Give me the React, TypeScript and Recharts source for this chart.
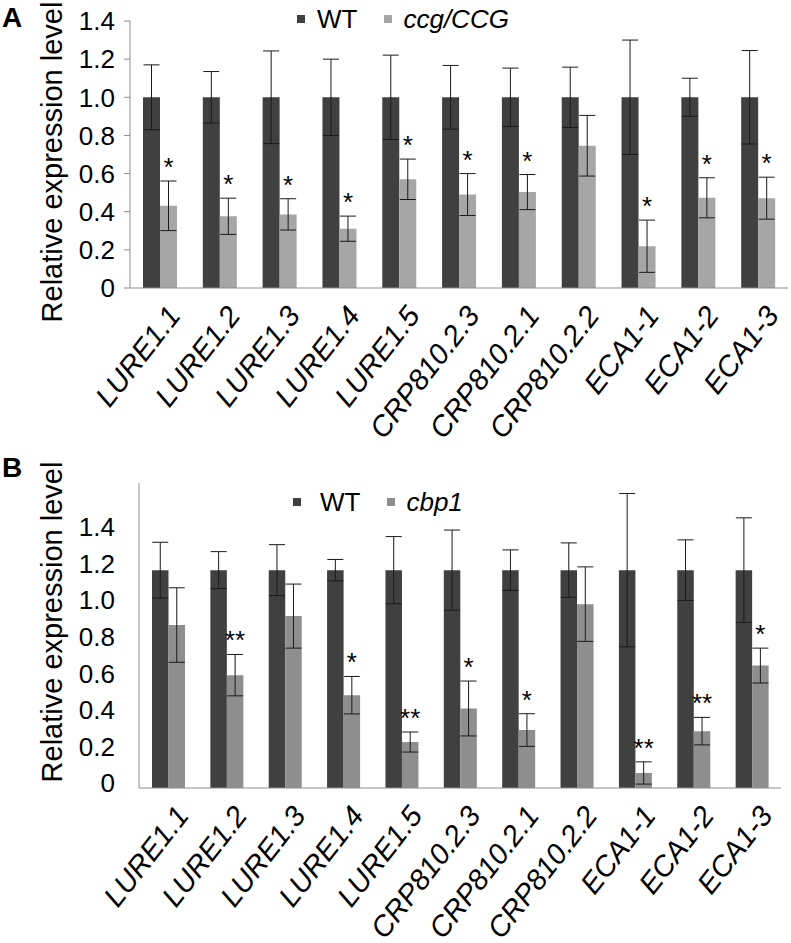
import React from 'react';
import { BarChart, Bar, XAxis, YAxis, ErrorBar, LabelList, Legend } from 'recharts';

// ---------- data ----------
const categories = [
  'LURE1.1', 'LURE1.2', 'LURE1.3', 'LURE1.4', 'LURE1.5',
  'CRP810.2.3', 'CRP810.2.1', 'CRP810.2.2', 'ECA1-1', 'ECA1-2', 'ECA1-3',
];

// Panel A: WT vs ccg/CCG
const wtA = [1, 1, 1, 1, 1, 1, 1, 1, 1, 1, 1];
const wtErrA = [0.17, 0.135, 0.243, 0.2, 0.221, 0.167, 0.153, 0.158, 0.3, 0.1, 0.245];
const ccgA = [0.431, 0.376, 0.386, 0.311, 0.57, 0.49, 0.503, 0.746, 0.219, 0.473, 0.471];
const ccgErrA = [0.13, 0.095, 0.082, 0.066, 0.106, 0.11, 0.092, 0.159, 0.137, 0.105, 0.11];
const sigA = ['*', '*', '*', '*', '*', '*', '*', '', '*', '*', '*'];

// Panel B: WT vs cbp1
const wtB = [1, 1, 1, 1, 1, 1, 1, 1, 1, 1, 1];
const wtErrB = [0.128, 0.085, 0.117, 0.049, 0.154, 0.184, 0.093, 0.125, 0.352, 0.139, 0.24];
const cbpB = [0.748, 0.518, 0.789, 0.426, 0.211, 0.365, 0.266, 0.844, 0.069, 0.261, 0.562];
const cbpErrB = [0.171, 0.095, 0.147, 0.086, 0.046, 0.126, 0.075, 0.171, 0.051, 0.063, 0.08];
const sigB = ['', '**', '', '*', '**', '*', '*', '', '**', '**', '*'];

// axis ticks
const yTicks = [0, 0.2, 0.4, 0.6, 0.8, 1.0, 1.2, 1.4];
const yTickLabels = ['0', '0.2', '0.4', '0.6', '0.8', '1.0', '1.2', '1.4'];
const boundaryTicks = [0, 1, 2, 3, 4, 5, 6, 7, 8, 9, 10, 11];

// legends / titles
const legendA = [
  { label: 'WT', italic: false },
  { label: 'ccg/CCG', italic: true },
];
const legendB = [
  { label: 'WT', italic: false },
  { label: 'cbp1', italic: true },
];
const yTitle = 'Relative expression level';

// ---------- style ----------
const FONT = '"Liberation Sans", Arial, Helvetica, sans-serif';
const WT_COLOR = '#404040';
const CCG_COLOR = '#a6a6a6';
const CBP_COLOR = '#8e8e8e';
const AXIS_COLOR = '#8c8c8c';
const ERR_COLOR = '#1a1a1a';

const dataA = categories.map((name, i) => ({
  name, wt: wtA[i], wtErr: wtErrA[i], mut: ccgA[i], mutErr: ccgErrA[i],
}));
const dataB = categories.map((name, i) => ({
  name, wt: wtB[i], wtErr: wtErrB[i], mut: cbpB[i], mutErr: cbpErrB[i],
}));

const fmtTick = (v: number) => {
  const idx = yTicks.findIndex((t) => Math.abs(t - v) < 1e-6);
  return idx >= 0 ? yTickLabels[idx] : String(v);
};

const CatTick = (props: any) => {
  const { x, y, payload } = props;
  return (
    <g transform={`translate(${x + 22},${y + 27})`}>
      <text
        textAnchor="end"
        transform="rotate(-52)"
        fontStyle="italic"
        fontSize={29}
        fontFamily={FONT}
        fill="#000"
      >
        {payload.value}
      </text>
    </g>
  );
};

const makeStar = (sig: string[], errs: number[], vals: number[]) => (props: any) => {
  const { x, y, width, height, index } = props;
  const s = sig[index];
  if (!s) return null;
  const errPx = (Number(height) * errs[index]) / vals[index];
  return (
    <text
      x={Number(x) + Number(width) / 2}
      y={Number(y) - errPx - 5}
      textAnchor="middle"
      fontSize={26}
      fontFamily={FONT}
      fill="#000"
    >
      {s}
    </text>
  );
};

const makeLegend = (items: { label: string; italic: boolean }[], colors: string[], gapText: number) => () => (
  <div
    style={{
      display: 'flex',
      alignItems: 'center',
      fontFamily: FONT,
      fontSize: 26,
      color: '#000',
      lineHeight: '30px',
      whiteSpace: 'nowrap',
    }}
  >
    {items.map((it, i) => (
      <span key={it.label} style={{ display: 'inline-flex', alignItems: 'center', marginRight: i === 0 ? 27 : 0 }}>
        <span style={{ width: 8, height: 8, background: colors[i], marginRight: i === 0 ? gapText : 11, display: 'inline-block' }} />
        <span style={{ fontStyle: it.italic ? 'italic' : 'normal' }}>{it.label}</span>
      </span>
    ))}
  </div>
);

const tickStyle = { fontSize: 26, fill: '#000', fontFamily: FONT };

export default function App() {
  return (
    <div style={{ position: 'absolute', left: 0, top: 0, width: 791, height: 943, background: '#fff' }}>
      {/* Panel A */}
      <div style={{ position: 'absolute', left: 0, top: 0 }}>
        <BarChart width={791} height={460} data={dataA} margin={{ top: 21, right: 3, left: 0, bottom: 0 }} barGap={0} barSize={17}>
          <XAxis
            xAxisId="zcat"
            dataKey="name"
            height={171}
            interval={0}
            axisLine={false}
            tickLine={false}
            tickSize={0}
            tickMargin={0}
            tick={<CatTick />}
          />
          <XAxis
            xAxisId="abnd"
            type="number"
            domain={[0, 11]}
            ticks={boundaryTicks}
            height={1}
            tick={false}
            tickSize={5}
            axisLine={{ stroke: AXIS_COLOR }}
            tickLine={{ stroke: AXIS_COLOR }}
            allowDataOverflow
          />
          <YAxis
            domain={[0, 1.4]}
            ticks={yTicks}
            tickFormatter={fmtTick}
            width={130}
            tickSize={6}
            tickMargin={9}
            axisLine={{ stroke: AXIS_COLOR }}
            tickLine={{ stroke: AXIS_COLOR }}
            tick={tickStyle}
            allowDataOverflow
          />
          <Legend
            layout="horizontal"
            align="center"
            verticalAlign="middle"
            wrapperStyle={{ top: 4, left: 297, width: 'auto' }}
            content={makeLegend(legendA, [WT_COLOR, CCG_COLOR], 12)}
          />
          <Bar xAxisId="zcat" dataKey="wt" fill={WT_COLOR} isAnimationActive={false}>
            <ErrorBar dataKey="wtErr" width={8} stroke={ERR_COLOR} strokeWidth={1} />
          </Bar>
          <Bar xAxisId="zcat" dataKey="mut" fill={CCG_COLOR} isAnimationActive={false}>
            <ErrorBar dataKey="mutErr" width={8} stroke={ERR_COLOR} strokeWidth={1} />
            <LabelList dataKey="mut" content={makeStar(sigA, ccgErrA, ccgA)} />
          </Bar>
        </BarChart>
      </div>

      {/* Panel B */}
      <div style={{ position: 'absolute', left: 0, top: 460 }}>
        <BarChart width={791} height={483} data={dataB} margin={{ top: 23, right: 10, left: 0, bottom: 0 }} barGap={0} barSize={16.5}>
          <XAxis
            xAxisId="zcat"
            dataKey="name"
            height={154}
            interval={0}
            axisLine={false}
            tickLine={false}
            tickSize={0}
            tickMargin={0}
            tick={<CatTick />}
          />
          <XAxis
            xAxisId="abnd"
            type="number"
            domain={[0, 11]}
            ticks={boundaryTicks}
            height={1}
            tick={false}
            tickSize={5}
            axisLine={{ stroke: AXIS_COLOR }}
            tickLine={{ stroke: AXIS_COLOR }}
            allowDataOverflow
          />
          <YAxis
            yAxisId="zlbl"
            domain={[-0.027, 1.64]}
            ticks={yTicks}
            tickFormatter={fmtTick}
            width={129}
            tickSize={6}
            tickMargin={8}
            axisLine={false}
            tickLine={false}
            tick={tickStyle}
            allowDataOverflow
          />
          <YAxis
            yAxisId="areal"
            domain={[0, 1.4]}
            ticks={yTicks}
            width={10}
            tickSize={6}
            tick={false}
            axisLine={{ stroke: AXIS_COLOR }}
            tickLine={{ stroke: AXIS_COLOR }}
            allowDataOverflow
          />
          <Legend
            layout="horizontal"
            align="center"
            verticalAlign="middle"
            wrapperStyle={{ top: 27, left: 293, width: 'auto' }}
            content={makeLegend(legendB, [WT_COLOR, CBP_COLOR], 19)}
          />
          <Bar xAxisId="zcat" yAxisId="areal" dataKey="wt" fill={WT_COLOR} isAnimationActive={false}>
            <ErrorBar dataKey="wtErr" width={8} stroke={ERR_COLOR} strokeWidth={1} />
          </Bar>
          <Bar xAxisId="zcat" yAxisId="areal" dataKey="mut" fill={CBP_COLOR} isAnimationActive={false}>
            <ErrorBar dataKey="mutErr" width={8} stroke={ERR_COLOR} strokeWidth={1} />
            <LabelList dataKey="mut" content={makeStar(sigB, cbpErrB, cbpB)} />
          </Bar>
        </BarChart>
      </div>

      {/* panel letters and axis titles */}
      <svg width={791} height={943} style={{ position: 'absolute', left: 0, top: 0, pointerEvents: 'none' }}>
        <text x={2} y={27} fontSize={28} fontWeight="bold" fontFamily={FONT} fill="#000">A</text>
        <text x={2} y={477} fontSize={28} fontWeight="bold" fontFamily={FONT} fill="#000">B</text>
        <text x={62} y={162} transform="rotate(-90, 62, 162)" textAnchor="middle" fontSize={29} fontFamily={FONT} fill="#000">{yTitle}</text>
        <text x={62} y={622} transform="rotate(-90, 62, 622)" textAnchor="middle" fontSize={29} fontFamily={FONT} fill="#000">{yTitle}</text>
      </svg>
    </div>
  );
}
